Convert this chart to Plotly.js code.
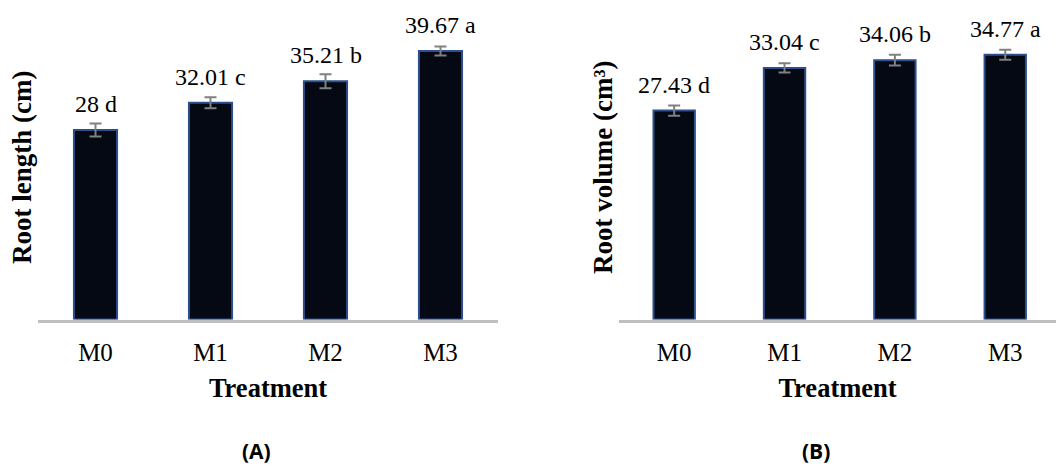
<!DOCTYPE html>
<html>
<head>
<meta charset="utf-8">
<script src="https://cdn.plot.ly/plotly-3.0.1.min.js"></script>
<style>html,body{margin:0;padding:0;background:#fff;}#chart{width:1056px;height:469px;}</style>
</head>
<body>
<div id="chart"></div>
<script>
const categories = ['M0', 'M1', 'M2', 'M3'];
const rootLength = [28, 32.01, 35.21, 39.67];
const rootLengthErr = [0.96, 0.81, 1.03, 0.66];
const rootLengthLetters = ['d', 'c', 'b', 'a'];
const rootVolume = [27.43, 33.04, 34.06, 34.77];
const rootVolumeErr = [0.66, 0.6, 0.72, 0.66];
const rootVolumeLetters = ['d', 'c', 'b', 'a'];

const serif = 'Liberation Serif, Times New Roman, serif';
const barStyle = {
  color: '#040914',
  line: {color: '#2d4f8c', width: 2}
};
const errStyle = (arr) => ({type: 'data', array: arr, visible: true, color: '#808080', thickness: 2, width: 6});

const traces = [
  {type: 'bar', x: categories, y: rootLength, width: 0.375, marker: barStyle,
   error_y: errStyle(rootLengthErr), xaxis: 'x', yaxis: 'y', hoverinfo: 'x+y', showlegend: false},
  {type: 'bar', x: categories, y: rootVolume, width: 0.375, marker: barStyle,
   error_y: errStyle(rootVolumeErr), xaxis: 'x2', yaxis: 'y2', hoverinfo: 'x+y', showlegend: false}
];

const annotations = [];
categories.forEach((c, i) => {
  annotations.push({x: c, y: rootLength[i], xref: 'x', yref: 'y', text: rootLength[i] + ' ' + rootLengthLetters[i],
    showarrow: false, yanchor: 'bottom', yshift: 11, font: {family: serif, size: 24, color: '#000'}});
  annotations.push({x: c, y: rootVolume[i], xref: 'x2', yref: 'y2', text: rootVolume[i] + ' ' + rootVolumeLetters[i],
    showarrow: false, yanchor: 'bottom', yshift: 11, font: {family: serif, size: 24, color: '#000'}});
});
annotations.push({text: '<b>Root length (cm)</b>', xref: 'paper', yref: 'paper', x: 22/1056, y: 1 - 168/469,
  textangle: -90, showarrow: false, xanchor: 'center', yanchor: 'middle', font: {family: serif, size: 27, color: '#000'}});
annotations.push({text: '<b>Root volume (cm³)</b>', xref: 'paper', yref: 'paper', x: 603/1056, y: 1 - 167/469,
  textangle: -90, showarrow: false, xanchor: 'center', yanchor: 'middle', font: {family: serif, size: 27, color: '#000'}});
annotations.push({text: '<b>(A)</b>', xref: 'paper', yref: 'paper', x: 256/1056, y: 1 - 451/469,
  showarrow: false, xanchor: 'center', yanchor: 'middle', font: {family: 'Open Sans, sans-serif', size: 21, color: '#000'}});
annotations.push({text: '<b>(B)</b>', xref: 'paper', yref: 'paper', x: 816/1056, y: 1 - 451/469,
  showarrow: false, xanchor: 'center', yanchor: 'middle', font: {family: 'Open Sans, sans-serif', size: 21, color: '#000'}});

const yDomain = [1 - 319.5/469, 1 - 14.9/469];
const xAxisCommon = {
  type: 'category', showline: true, linecolor: '#bfbfbf', linewidth: 3, showgrid: false, zeroline: false,
  ticks: '', tickfont: {family: serif, size: 25, color: '#000'}, ticklabelstandoff: 8, fixedrange: true
};
const yAxisCommon = {
  showline: false, showgrid: false, zeroline: false, showticklabels: false, ticks: '', fixedrange: true
};

const layout = {
  width: 1056, height: 469,
  margin: {l: 0, r: 0, t: 0, b: 0},
  paper_bgcolor: '#fff', plot_bgcolor: 'rgba(0,0,0,0)',
  barmode: 'group', showlegend: false,
  xaxis: Object.assign({}, xAxisCommon, {domain: [38/1056, 498/1056], range: [-0.5, 3.5], anchor: 'y',
    title: {text: '<b>Treatment</b>', font: {family: serif, size: 26.5, color: '#000'}, standoff: 14}}),
  yaxis: Object.assign({}, yAxisCommon, {domain: yDomain, range: [0, 45], anchor: 'x'}),
  xaxis2: Object.assign({}, xAxisCommon, {domain: [619/1056, 1], range: [-0.5, 3.46], anchor: 'y2',
    title: {text: '<b>Treatment</b>', font: {family: serif, size: 26.5, color: '#000'}, standoff: 14}}),
  yaxis2: Object.assign({}, yAxisCommon, {domain: yDomain, range: [0, 40], anchor: 'x2'}),
  annotations: annotations
};

Plotly.newPlot('chart', traces, layout, {displayModeBar: false, staticPlot: true});
</script>
</body>
</html>
